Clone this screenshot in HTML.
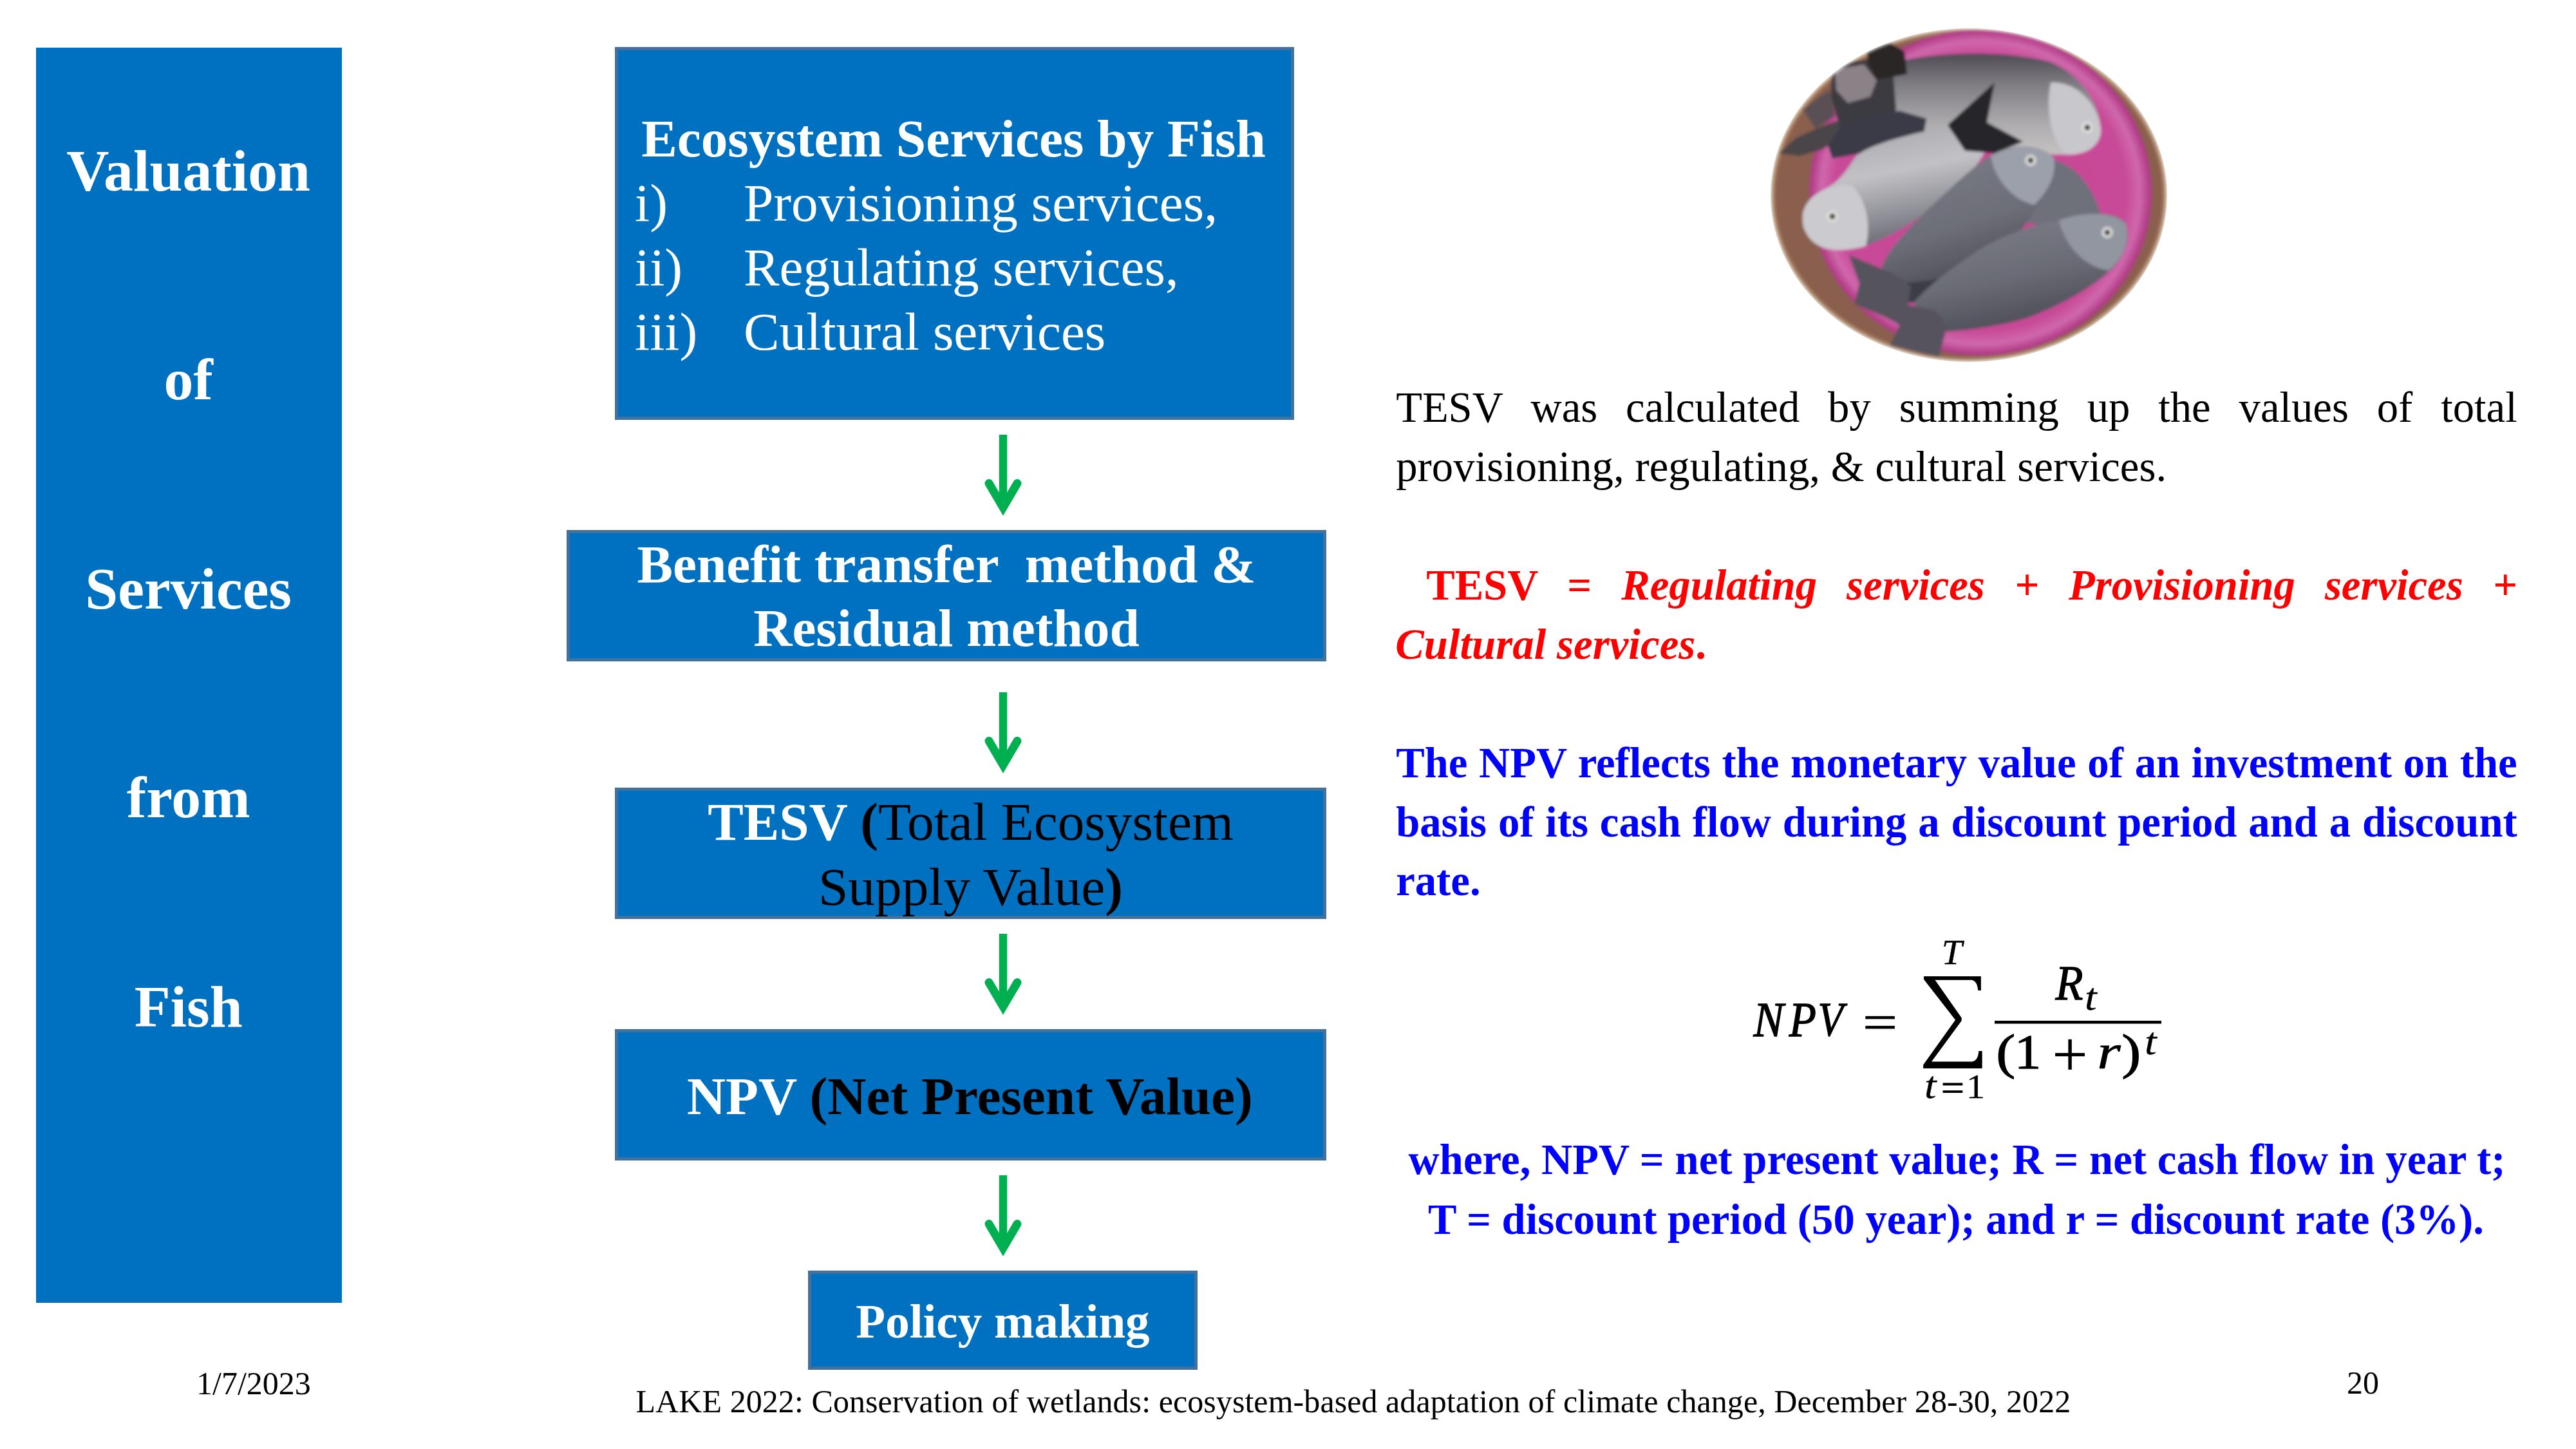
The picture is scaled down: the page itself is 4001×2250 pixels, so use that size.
<!DOCTYPE html>
<html><head><meta charset="utf-8"><title>slide</title>
<style>
html,body{margin:0;padding:0;background:#fff;}
body{width:4001px;height:2250px;position:relative;overflow:hidden;font-family:"Liberation Serif",serif;}
.t{position:absolute;white-space:pre;}
.tj{position:absolute;white-space:normal;}
.box{position:absolute;box-sizing:border-box;background:#0070C0;}
.bb{border:5px solid #41719C;}
svg{position:absolute;left:0;top:0;}
</style></head><body>
<div class="box" style="left:56px;top:74px;width:475px;height:1949px;"></div>
<div class="t" style="left:55.2px;top:219.8px;font-size:91.67px;line-height:91.67px;color:#fff;font-weight:bold;width:475.0px;text-align:center;">Valuation</div>
<div class="t" style="left:55.2px;top:544.3px;font-size:91.67px;line-height:91.67px;color:#fff;font-weight:bold;width:475.0px;text-align:center;">of</div>
<div class="t" style="left:55.2px;top:868.8px;font-size:91.67px;line-height:91.67px;color:#fff;font-weight:bold;width:475.0px;text-align:center;">Services</div>
<div class="t" style="left:55.2px;top:1193.3px;font-size:91.67px;line-height:91.67px;color:#fff;font-weight:bold;width:475.0px;text-align:center;">from</div>
<div class="t" style="left:55.2px;top:1517.8px;font-size:91.67px;line-height:91.67px;color:#fff;font-weight:bold;width:475.0px;text-align:center;">Fish</div>
<div class="box bb" style="left:955px;top:73px;width:1055px;height:579px;"></div>
<div class="box bb" style="left:880px;top:823px;width:1180px;height:204px;"></div>
<div class="box bb" style="left:955px;top:1223px;width:1105px;height:204px;"></div>
<div class="box bb" style="left:955px;top:1598px;width:1105px;height:204px;"></div>
<div class="box bb" style="left:1255px;top:1973px;width:605px;height:154px;"></div>
<div class="t" style="left:953.5px;top:173.6px;font-size:83.33px;line-height:83.33px;color:#fff;font-weight:bold;width:1055.0px;text-align:center;">Ecosystem Services by Fish</div>
<div class="t" style="left:986.0px;top:274.0px;font-size:83.33px;line-height:83.33px;color:#fff;">i)</div>
<div class="t" style="left:1155.0px;top:274.0px;font-size:83.33px;line-height:83.33px;color:#fff;">Provisioning services,</div>
<div class="t" style="left:986.0px;top:374.0px;font-size:83.33px;line-height:83.33px;color:#fff;">ii)</div>
<div class="t" style="left:1155.0px;top:374.0px;font-size:83.33px;line-height:83.33px;color:#fff;">Regulating services,</div>
<div class="t" style="left:986.0px;top:474.0px;font-size:83.33px;line-height:83.33px;color:#fff;">iii)</div>
<div class="t" style="left:1155.0px;top:474.0px;font-size:83.33px;line-height:83.33px;color:#fff;">Cultural services</div>
<div class="t" style="left:880.0px;top:834.7px;font-size:83.33px;line-height:83.33px;color:#fff;font-weight:bold;width:1180.0px;text-align:center;">Benefit transfer  method &amp;</div>
<div class="t" style="left:880.0px;top:934.2px;font-size:83.33px;line-height:83.33px;color:#fff;font-weight:bold;width:1180.0px;text-align:center;">Residual method</div>
<div class="t" style="left:955.0px;top:1235.4px;font-size:83.33px;line-height:83.33px;color:#000;width:1105.0px;text-align:center;"><b style="color:#fff">TESV</b><b> (</b>Total Ecosystem</div>
<div class="t" style="left:955.0px;top:1335.9px;font-size:83.33px;line-height:83.33px;color:#000;width:1105.0px;text-align:center;">Supply Value<b>)</b></div>
<div class="t" style="left:953.8px;top:1660.9px;font-size:83.33px;line-height:83.33px;color:#000;font-weight:bold;width:1105.0px;text-align:center;"><span style="color:#fff">NPV</span> (Net Present Value)</div>
<div class="t" style="left:1255.0px;top:2014.2px;font-size:75px;line-height:75px;color:#fff;font-weight:bold;width:605.0px;text-align:center;">Policy making</div>
<svg width="4001" height="2250" viewBox="0 0 4001 2250"><line x1="1558" y1="675" x2="1558" y2="787" stroke="#00B050" stroke-width="12.5"/><polyline points="1536,750.5 1558,788 1580,750.5" fill="none" stroke="#00B050" stroke-width="13" stroke-linecap="round" stroke-linejoin="miter" stroke-miterlimit="10"/><line x1="1558" y1="1075" x2="1558" y2="1187" stroke="#00B050" stroke-width="12.5"/><polyline points="1536,1150.5 1558,1188 1580,1150.5" fill="none" stroke="#00B050" stroke-width="13" stroke-linecap="round" stroke-linejoin="miter" stroke-miterlimit="10"/><line x1="1558" y1="1450" x2="1558" y2="1562" stroke="#00B050" stroke-width="12.5"/><polyline points="1536,1525.5 1558,1563 1580,1525.5" fill="none" stroke="#00B050" stroke-width="13" stroke-linecap="round" stroke-linejoin="miter" stroke-miterlimit="10"/><line x1="1558" y1="1825" x2="1558" y2="1937" stroke="#00B050" stroke-width="12.5"/><polyline points="1536,1900.5 1558,1938 1580,1900.5" fill="none" stroke="#00B050" stroke-width="13" stroke-linecap="round" stroke-linejoin="miter" stroke-miterlimit="10"/></svg>
<div class="t" style="left:2168.2px;top:599.7px;font-size:66.67px;line-height:66.67px;color:#000;width:1741.5px;text-align:justify;text-align-last:justify;">TESV was calculated by summing up the values of total</div>
<div class="t" style="left:2168.2px;top:691.9px;font-size:66.67px;line-height:66.67px;color:#000;letter-spacing:0.065px;">provisioning, regulating, &amp; cultural services.</div>
<div class="t" style="left:2168.2px;top:875.6px;font-size:66.67px;line-height:66.67px;color:#FF0000;font-weight:bold;width:1741.5px;text-align:justify;text-align-last:justify;"><span style="display:inline-block;width:47px"></span><span style="font-style:normal">TESV = </span><i>Regulating services + Provisioning services +</i></div>
<div class="t" style="left:2167.2px;top:967.8px;font-size:66.67px;line-height:66.67px;color:#FF0000;font-weight:bold;letter-spacing:0.08px;"><i>Cultural services</i>.</div>
<div class="t" style="left:2168.2px;top:1151.7px;font-size:66.67px;line-height:66.67px;color:#0000FF;font-weight:bold;width:1741.5px;text-align:justify;text-align-last:justify;">The NPV reflects the monetary value of an investment on the</div>
<div class="t" style="left:2168.2px;top:1243.9px;font-size:66.67px;line-height:66.67px;color:#0000FF;font-weight:bold;width:1741.5px;text-align:justify;text-align-last:justify;">basis of its cash flow during a discount period and a discount</div>
<div class="t" style="left:2168.2px;top:1334.8px;font-size:66.67px;line-height:66.67px;color:#0000FF;font-weight:bold;">rate.</div>
<div class="t" style="left:2170.5px;top:1768.4px;font-size:66.67px;line-height:66.67px;color:#0000FF;font-weight:bold;width:1738.0px;text-align:center;letter-spacing:0.06px;">where, NPV = net present value; R = net cash flow in year t;</div>
<div class="t" style="left:2169.0px;top:1860.8px;font-size:66.67px;line-height:66.67px;color:#0000FF;font-weight:bold;width:1738.0px;text-align:center;">T = discount period (50 year); and r = discount rate (3%).</div>
<div class="t" style="left:305.0px;top:2122.5px;font-size:50px;line-height:50px;color:#000;">1/7/2023</div>
<div class="t" style="left:987.5px;top:2151.4px;font-size:50px;line-height:50px;color:#000;letter-spacing:0.07px;">LAKE 2022: Conservation of wetlands: ecosystem-based adaptation of climate change, December 28-30, 2022</div>
<div class="t" style="left:3645.0px;top:2122.1px;font-size:50px;line-height:50px;color:#000;">20</div>
<svg width="4001" height="2250" viewBox="0 0 4001 2250" style="font-family:'Liberation Serif',serif" fill="#000" stroke="#000" stroke-width="0"><text transform="translate(2723.59,1609.10) scale(0.9152,1)" font-size="76.64" stroke-width="1.3" style="font-style:italic;">N</text><text transform="translate(2778.75,1609.10) scale(0.9023,1)" font-size="76.64" stroke-width="1.3" style="font-style:italic;">P</text><text transform="translate(2823.54,1607.98) scale(0.8619,1)" font-size="74.93" stroke-width="1.3" style="font-style:italic;">V</text><text transform="translate(3192.45,1551.80) scale(0.9263,1)" font-size="75.88" stroke-width="1.3" style="font-style:italic;">R</text><text transform="translate(3237.92,1567.80) scale(1.1200,1)" font-size="59.69" stroke-width="0.3" style="font-style:italic;">t</text><text transform="translate(3100.60,1658.77) scale(1.1645,1)" font-size="76.19" stroke-width="1.3" style="">(</text><text transform="translate(3128.95,1658.60) scale(1.0746,1)" font-size="76.67" stroke-width="1.3" style="">1</text><text transform="translate(3257.26,1658.60) scale(1.2471,1)" font-size="75.16" stroke-width="0.7" style="font-style:italic;">r</text><text transform="translate(3295.56,1658.77) scale(1.1645,1)" font-size="76.19" stroke-width="1.3" style="">)</text><text transform="translate(3331.12,1636.80) scale(1.1200,1)" font-size="59.69" stroke-width="0.3" style="font-style:italic;">t</text><text transform="translate(3015.73,1497.00) scale(1.0613,1)" font-size="53.89" stroke-width="0.4" style="font-style:italic;">T</text><text transform="translate(2989.04,1704.61) scale(1.1200,1)" font-size="59.34" stroke-width="0.3" style="font-style:italic;">t</text><text transform="translate(3053.76,1704.70) scale(1.1200,1)" font-size="52.73" stroke-width="0.3" style="">1</text><rect x="2897.3" y="1577.8" width="45.6" height="4.6"/><rect x="2897.3" y="1592.9" width="45.6" height="4.6"/><rect x="3098" y="1585" width="259.0" height="4.6"/><rect x="3192.1" y="1635.1" width="45.9" height="5.1"/><rect x="3212.4" y="1613.9" width="5.4" height="47.0"/><rect x="3017.6" y="1681.5" width="30.7" height="4.0"/><rect x="3017.6" y="1693.2" width="30.7" height="3.8"/><path transform="translate(2980,1450) scale(0.17937)" d="M45,368 L540,368 L540,490 L515,490 C510,450 500,410 462,400 L142,400 L372,728 L372,752 L112,1106 L462,1106 C505,1100 517,1060 520,1015 L550,1015 L550,1165 L40,1165 L40,1135 L318,745 L45,395 Z"/></svg>
<svg width="4001" height="2250" viewBox="0 0 4001 2250"><defs>
<clipPath id="ov"><ellipse cx="3058" cy="303" rx="308" ry="259"/></clipPath>
<filter id="soft" x="-5%" y="-5%" width="110%" height="110%"><feGaussianBlur stdDeviation="2"/></filter>
<filter id="edge" x="-10%" y="-10%" width="120%" height="120%"><feGaussianBlur stdDeviation="2.5"/></filter>
<linearGradient id="fa" x1="0" y1="0" x2="0" y2="1"><stop offset="0" stop-color="#4e4c54"/><stop offset="0.3" stop-color="#7e7c82"/><stop offset="0.7" stop-color="#aeacae"/><stop offset="1" stop-color="#c4c2c2"/></linearGradient>
<linearGradient id="fb" x1="0.3" y1="0" x2="0.6" y2="1"><stop offset="0" stop-color="#a4a4aa"/><stop offset="0.4" stop-color="#c2c2c6"/><stop offset="0.75" stop-color="#8a8a92"/><stop offset="1" stop-color="#5c5c66"/></linearGradient>
<linearGradient id="fc" x1="0.3" y1="0" x2="0.7" y2="1"><stop offset="0" stop-color="#7a7c86"/><stop offset="0.55" stop-color="#6c6e78"/><stop offset="1" stop-color="#484850"/></linearGradient>
<linearGradient id="fd" x1="0.3" y1="0" x2="0.7" y2="1"><stop offset="0" stop-color="#7c7e88"/><stop offset="0.5" stop-color="#6a6c76"/><stop offset="1" stop-color="#45454e"/></linearGradient>
<radialGradient id="pk" cx="0.5" cy="0.5" r="0.5"><stop offset="0" stop-color="#c44592"/><stop offset="0.85" stop-color="#c84a98"/><stop offset="0.93" stop-color="#d068ac"/><stop offset="1" stop-color="#ac3580"/></radialGradient>
</defs><g clip-path="url(#ov)"><g filter="url(#soft)"><rect x="2740" y="40" width="640" height="530" fill="#8a5e4d"/><ellipse cx="3058" cy="303" rx="308" ry="259" fill="none" stroke="#a68062" stroke-width="14"/><ellipse cx="3076" cy="299" rx="266" ry="253" fill="url(#pk)"/><path d="M2930,100 C2990,82 3100,76 3180,95 C3230,112 3262,160 3263,205 C3260,228 3240,240 3210,240 C3140,240 3060,235 2990,230 C2950,225 2915,200 2905,165 Z" fill="url(#fa)"/><path d="M3185,128 C3232,126 3262,170 3263,205 C3260,228 3240,240 3212,240 C3188,225 3176,175 3185,128 Z" fill="#c8c8cc"/><path d="M2846,101 L2900,92 L2940,108 L2945,170 L2935,200 L2860,205 L2843,150 Z" fill="#3e3a42"/><path d="M2850,108 L2895,100 L2915,125 L2905,150 L2870,160 L2852,140 Z" fill="#8a8286"/><path d="M2800,170 L2840,140 L2850,180 L2820,200 Z" fill="#5a5054"/><path d="M2898,70 L2935,66 L2958,80 L2962,115 L2915,124 L2902,100 Z" fill="#2c2628"/><path d="M2763,238 L2790,214 L2830,196 L2858,186 L2858,214 L2830,232 L2795,242 Z" fill="#4a4548"/><path d="M2839,226 L2860,196 L2900,181 L2950,172 L2992,184 L2988,208 L2942,224 L2880,240 L2846,246 Z" fill="#3a3a46"/><path d="M3161,250 C3205,238 3245,275 3262,330 L3230,350 L3190,352 L3140,345 L3150,320 C3160,300 3164,280 3161,250 Z" fill="#6e707a"/><path d="M2930,415 L3000,425 L3060,400 L3040,440 L2990,470 L2950,470 Z" fill="#3e3c46"/><path d="M2800,335 C2806,315 2825,298 2842,289 C2858,280 2870,262 2883,242 C2900,228 2935,217 2980,206 C3010,200 3030,192 3050,190 L3095,212 C3075,258 3045,290 3005,320 C2965,350 2925,375 2882,386 C2842,390 2810,376 2800,352 Z" fill="url(#fb)"/><path d="M2800,332 C2806,302 2840,286 2876,288 C2900,310 2906,352 2898,382 C2870,390 2840,390 2826,382 C2806,372 2798,352 2800,332 Z" fill="#cbcbcf"/><path d="M3025,194 L3098,128 L3086,190 L3142,220 L3098,238 L3052,234 Z" fill="#26262c"/><path d="M3094,240 C3120,224 3170,222 3190,245 C3196,270 3182,300 3161,324 C3140,360 3115,392 3080,412 C3040,430 2990,438 2950,440 L2922,420 C2924,398 2958,360 2998,322 C3030,292 3060,262 3094,240 Z" fill="url(#fc)"/><path d="M3092,242 C3122,224 3172,222 3190,246 C3195,272 3180,298 3160,318 C3128,312 3098,280 3092,242 Z" fill="#9ca0aa"/><path d="M2940,425 L2872,396 L2888,440 L2880,472 L2928,492 L2958,508 L2968,445 Z" fill="#55525c"/><path d="M3198,342 C3232,328 3282,326 3302,346 C3310,372 3300,402 3273,424 C3248,446 3200,475 3148,494 C3100,508 3050,514 3004,516 L2972,470 C2998,440 3040,410 3074,388 C3110,366 3150,350 3198,342 Z" fill="url(#fd)"/><path d="M3198,342 C3236,328 3284,328 3302,348 C3308,376 3298,402 3275,420 C3240,415 3208,385 3198,342 Z" fill="#9296a0"/><path d="M3006,482 L2926,466 L2950,506 L2935,536 L2990,550 L3012,554 L3024,506 Z" fill="#57535f"/><circle cx="3242" cy="198" r="8.5" fill="#e6e4e2"/><circle cx="3242" cy="198" r="4.5" fill="#2a2a2a"/><circle cx="2846" cy="336" r="8.5" fill="#e6e4e2"/><circle cx="2846" cy="336" r="4.5" fill="#2a2a2a"/><circle cx="3154" cy="249" r="8.5" fill="#e6e4e2"/><circle cx="3154" cy="249" r="4.5" fill="#2a2a2a"/><circle cx="3273" cy="361" r="8.5" fill="#e6e4e2"/><circle cx="3273" cy="361" r="4.5" fill="#2a2a2a"/></g></g><ellipse cx="3058" cy="303" rx="309" ry="260" fill="none" stroke="#fff" stroke-width="5" filter="url(#edge)"/></svg>
</body></html>
